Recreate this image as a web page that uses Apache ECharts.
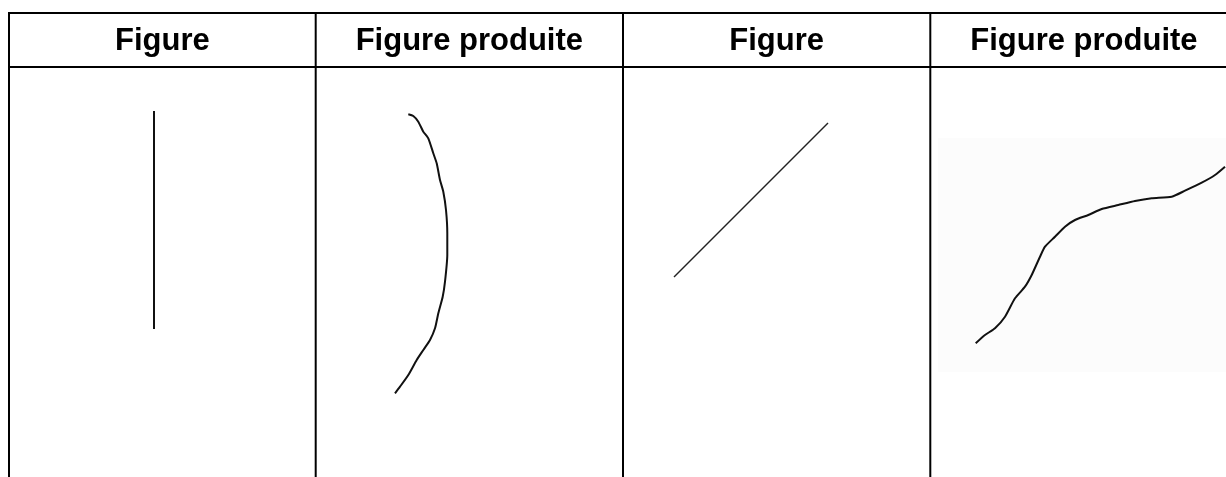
<!DOCTYPE html>
<html>
<head>
<meta charset="utf-8">
<script src="https://cdn.jsdelivr.net/npm/echarts@6/dist/echarts.min.js"></script>
<style>
  html, body { margin: 0; padding: 0; background: #ffffff; }
  #chart { width: 1226px; height: 477px; }
</style>
</head>
<body>
<div id="chart"></div>
<script>
// ---- data ----
const headers = ['Figure', 'Figure produite', 'Figure', 'Figure produite'];
const verticalLine = [[154, 111], [154, 329]];
const producedArc = [
  [408.3, 114.3], [413.3, 116], [418.3, 121.7], [423.3, 131.7], [428.3, 138.3],
  [433.3, 153.3], [436.7, 163.3], [440, 180], [443.3, 191.7], [446, 210],
  [447.3, 233.3], [447.3, 255], [445, 281.7], [442.7, 296.7], [438.3, 313.3],
  [435, 328.3], [430, 340], [423.3, 350], [416.7, 360], [408.3, 375],
  [400, 386.7], [395, 393.3]
];
const diagonalLine = [[674, 277], [828, 123]];
const producedCurve = [
  [975.7, 343.3], [985, 335], [995, 328.3], [1005, 316.7], [1015, 298.3],
  [1025, 286.7], [1031.7, 275], [1040, 256.7], [1045, 246.7], [1055, 236.7],
  [1065, 226.7], [1075, 220], [1088.3, 215], [1101.7, 209], [1118.3, 205],
  [1135, 201], [1151.7, 198.3], [1171.7, 196.7], [1185, 190.7], [1201.7, 182.7],
  [1215, 175], [1225, 166.7]
];

// ---- layout (styles only) ----
const W = 1226, H = 477;
const colEdges = [9, 315.7, 623, 930.3, 1237.5];
const topY = 13, headY = 67;

const graphics = [];
// faint pasted-image backdrop in last cell
graphics.push({ type: 'rect', z: 0, shape: { x: 938, y: 138, width: W - 938, height: 234 },
  style: { fill: '#fcfcfc' } });
// horizontal lines
[topY, headY].forEach(y => graphics.push({ type: 'line', z: 10,
  shape: { x1: colEdges[0] - 1, y1: y, x2: W + 5, y2: y },
  style: { stroke: '#000', lineWidth: 2 } }));
// vertical lines
colEdges.forEach(x => graphics.push({ type: 'line', z: 10,
  shape: { x1: x, y1: topY - 1, x2: x, y2: H + 5 },
  style: { stroke: '#000', lineWidth: 2 } }));
// headers
headers.forEach((t, i) => graphics.push({ type: 'text', z: 10,
  x: (colEdges[i] + colEdges[i + 1]) / 2, y: 41,
  style: { text: t, fill: '#000', font: 'bold 31px "Liberation Sans", Arial, sans-serif',
    align: 'center', verticalAlign: 'middle' } }));

const mk = (name, data, width, color, smooth) => ({
  name, type: 'line', data, symbol: 'none', smooth: smooth,
  lineStyle: { width, color }, silent: true, z: 5
});

const chart = echarts.init(document.getElementById('chart'), null, { renderer: 'canvas' });
chart.setOption({
  animation: false,
  backgroundColor: '#ffffff',
  grid: { left: 0, right: 0, top: 0, bottom: 0 },
  xAxis: { type: 'value', min: 0, max: W, show: false },
  yAxis: { type: 'value', min: 0, max: H, inverse: true, show: false },
  graphic: graphics,
  series: [
    mk('Figure 1', verticalLine, 2, '#111', false),
    mk('Figure produite 1', producedArc, 2, '#111', 0.2),
    mk('Figure 2', diagonalLine, 1.5, '#222', false),
    mk('Figure produite 2', producedCurve, 2, '#111', 0.2)
  ]
});
</script>
</body>
</html>
